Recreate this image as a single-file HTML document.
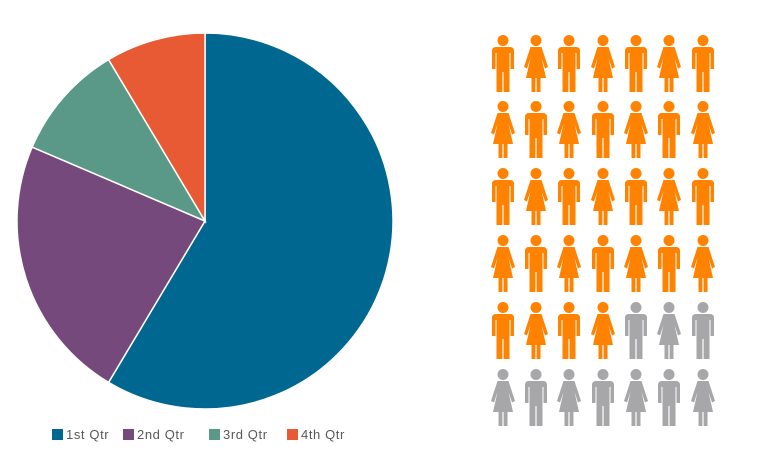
<!DOCTYPE html>
<html><head><meta charset="utf-8"><style>
body{margin:0;background:#fff;width:768px;height:464px;overflow:hidden;font-family:"Liberation Sans",sans-serif}
</style></head><body>
<svg id="c" width="768" height="464"></svg>
<script>
const categories=["1st Qtr","2nd Qtr","3rd Qtr","4th Qtr"];
const sales=[8.2,3.2,1.4,1.2];
const colors=["#006890","#76497c","#5a9987","#e75a33"];
const totalPeople=42;
const highlighted=32;
const ns="http://www.w3.org/2000/svg";
const svg=document.getElementById('c');
function mk(t,a,p){const e=document.createElementNS(ns,t);for(const k in a)e.setAttribute(k,a[k]);(p||svg).appendChild(e);return e;}
const cx=205,cy=221,r=188;
const tot=sales.reduce((a,b)=>a+b,0);
let ang=0;
const pie=mk('g',{});


sales.forEach((v,i)=>{
 const a0=ang,a1=ang+v/tot*2*Math.PI;ang=a1;
 const x0=cx+r*Math.sin(a0),y0=cy-r*Math.cos(a0),x1=cx+r*Math.sin(a1),y1=cy-r*Math.cos(a1);
 const p=mk('path',{d:`M${cx},${cy}L${x0},${y0}A${r},${r} 0 ${a1-a0>Math.PI?1:0} 1 ${x1},${y1}Z`,fill:colors[i],stroke:'#fff','stroke-width':1.5},pie);
 
 
});
const legX=[52,123,209,287];
categories.forEach((c,i)=>{
 const g=mk('g',{});
 
 
 mk('rect',{x:legX[i],y:429,width:11,height:11,fill:colors[i]},g);
 const t=mk('text',{x:legX[i]+14,y:439,'font-size':13,fill:'#595959','letter-spacing':0.6},g);t.textContent=c;
});
const colX=[503,536,569,603,636,669,703];
const rowY=[35,101,168,235,302,369];
function person(x,y,female,col){
 const g=mk('g',{transform:`translate(${x-12},${y})`,fill:col});
 
 
 mk('circle',{cx:12,cy:5.5,r:5.5},g);
 if(!female){
  mk('path',{d:'M5,12H19Q23,12 23,16V34H19.5V18H18.5V57H12.6V37H11.4V57H5.5V18H4.5V34H1V16Q1,12 5,12Z'},g);
 }else{
  mk('path',{d:'M6.5,12H17.5L24,32L21,33.5L17.5,23L22,43H16.5V57H12.6V43H11.4V57H7.5V43H2L6.5,23L3,33.5L0,32Z'},g);
 }
}
for(let i=0;i<totalPeople;i++){
 const row=Math.floor(i/7),col=i%7;
 person(colX[col],rowY[row],(row+col)%2===1,i<highlighted?'#ff8200':'#a7a7a9');
}
</script>
</body></html>
